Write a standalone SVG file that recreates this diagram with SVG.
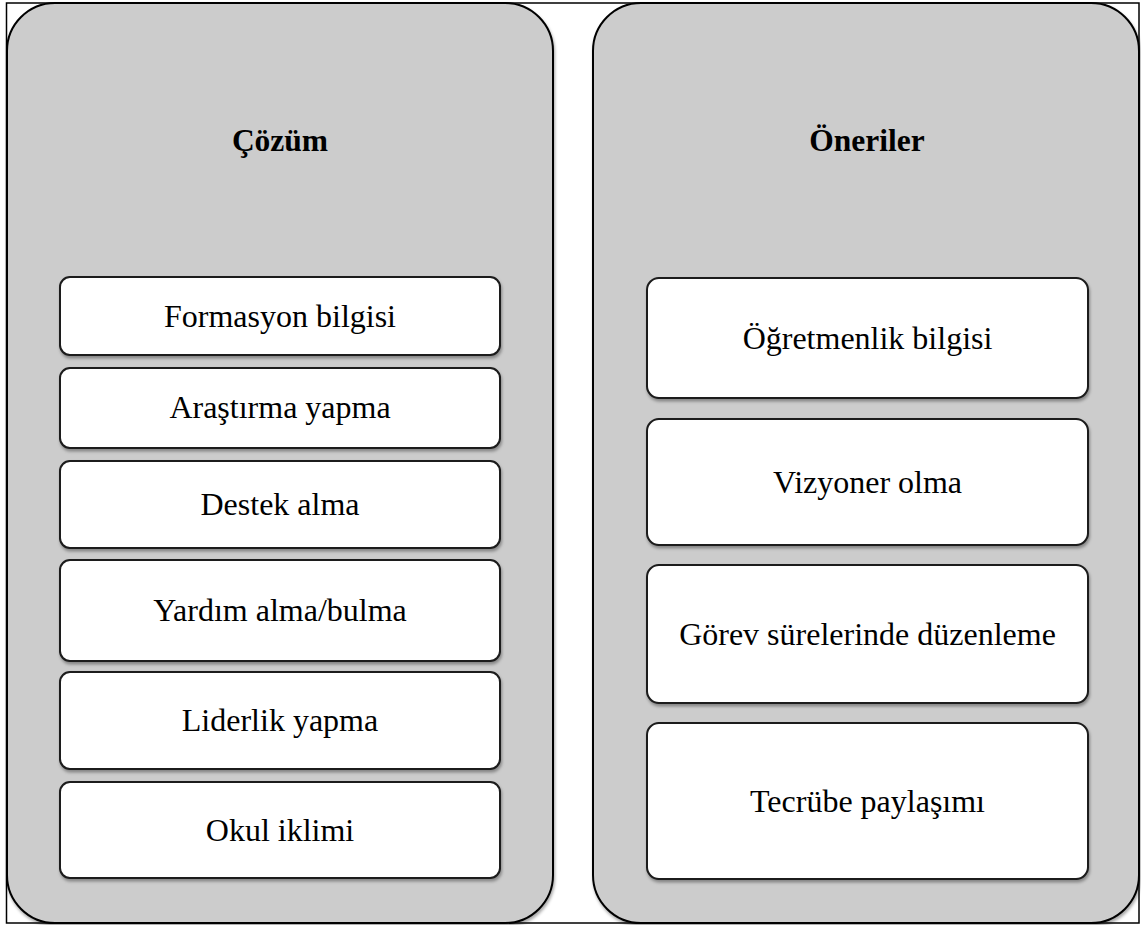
<svg xmlns="http://www.w3.org/2000/svg" width="1141" height="925" viewBox="0 0 1141 925">
<defs>
<filter id="sh" x="-5%" y="-5%" width="110%" height="115%">
<feDropShadow dx="1" dy="2.5" stdDeviation="1.8" flood-color="#000" flood-opacity="0.35"/>
</filter>
<style>
.panel{fill:#cccccc;stroke:#000;stroke-width:2;filter:url(#sh)}
.box{fill:#fff;stroke:#1a1a1a;stroke-width:2;filter:url(#sh)}
.t{font-family:"Liberation Serif","Times New Roman",serif;font-size:32px;fill:#000;text-anchor:middle}
.h{font-family:"Liberation Serif","Times New Roman",serif;font-size:31.5px;font-weight:bold;fill:#000;text-anchor:middle}
</style>
</defs>
<rect x="0" y="0" width="1141" height="925" fill="#fff"/>
<g id="panel-cozum">
<rect class="panel" x="7" y="3" width="546" height="920" rx="48" ry="48"/>
<text class="h" x="280" y="151">Çözüm</text>
</g>
<g id="panel-oneriler">
<rect class="panel" x="593" y="3" width="546" height="920" rx="48" ry="48"/>
<text class="h" x="867" y="151">Öneriler</text>
</g>
<rect x="6.5" y="3" width="1132.5" height="920" fill="none" stroke="#000" stroke-width="1.5"/>
<g id="n1"><rect class="box" x="60" y="277" width="440" height="78" rx="10"/><text class="t" x="280" y="327">Formasyon bilgisi</text></g>
<g id="n2"><rect class="box" x="60" y="368" width="440" height="80" rx="10"/><text class="t" x="280" y="418">Araştırma yapma</text></g>
<g id="n3"><rect class="box" x="60" y="461" width="440" height="87" rx="10"/><text class="t" x="280" y="515">Destek alma</text></g>
<g id="n4"><rect class="box" x="60" y="560" width="440" height="101" rx="10"/><text class="t" x="280" y="621">Yardım alma/bulma</text></g>
<g id="n5"><rect class="box" x="60" y="672" width="440" height="97" rx="10"/><text class="t" x="280" y="731">Liderlik yapma</text></g>
<g id="n6"><rect class="box" x="60" y="782" width="440" height="96" rx="10"/><text class="t" x="280" y="841">Okul iklimi</text></g>
<g id="r1"><rect class="box" x="647" y="278" width="441" height="120" rx="12"/><text class="t" x="867.5" y="349">Öğretmenlik bilgisi</text></g>
<g id="r2"><rect class="box" x="647" y="419" width="441" height="126" rx="12"/><text class="t" x="867.5" y="493">Vizyoner olma</text></g>
<g id="r3"><rect class="box" x="647" y="565" width="441" height="138" rx="12"/><text class="t" x="867.5" y="645">Görev sürelerinde düzenleme</text></g>
<g id="r4"><rect class="box" x="647" y="723" width="441" height="156" rx="12"/><text class="t" x="867.5" y="812">Tecrübe paylaşımı</text></g>
<g id="connectors"></g>
</svg>
